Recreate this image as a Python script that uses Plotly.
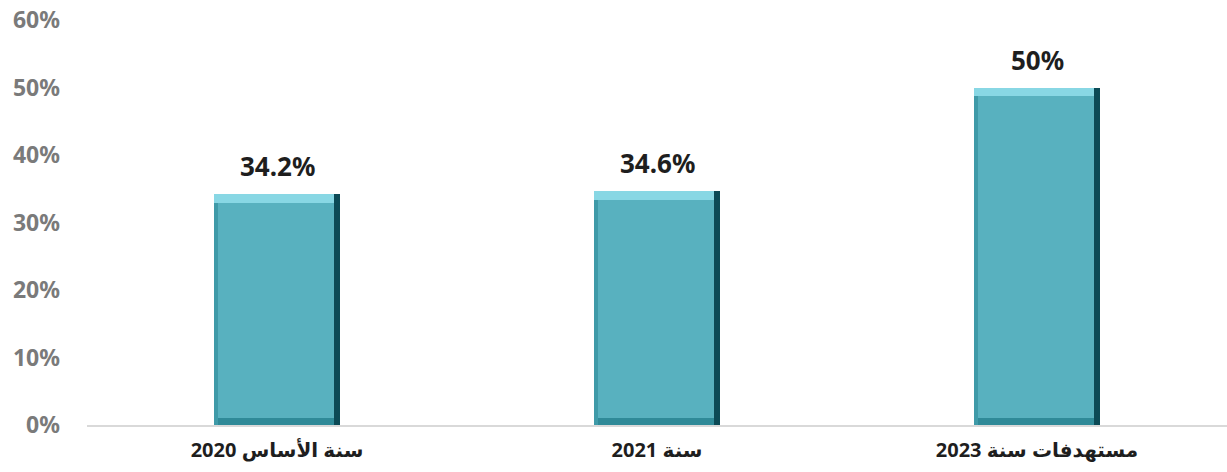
import plotly.graph_objects as go

categories = ["سنة الأساس 2020", "سنة 2021", "مستهدفات سنة 2023"]
values = [34.2, 34.6, 50]
value_labels = ["34.2%", "34.6%", "50%"]
y_ticks = [0, 10, 20, 30, 40, 50, 60]
y_tick_labels = ["0%", "10%", "20%", "30%", "40%", "50%", "60%"]

BW = 0.334
OFF = -BW / 2
MAIN = "#58b1bf"
TOP = "#88d7e4"
BOTTOM = "#2f8a98"
LEFT = "#3f9aa8"
RIGHT = "#0c4a56"

fig = go.Figure()
# main body
fig.add_trace(go.Bar(x=categories, y=values, width=BW, offset=OFF,
                     marker=dict(color=MAIN, line=dict(width=0)), hoverinfo="skip"))
# top highlight bevel
top_h = 1.3
fig.add_trace(go.Bar(x=categories, y=[top_h] * 3, base=[v - top_h for v in values],
                     width=BW, offset=OFF, marker=dict(color=TOP, line=dict(width=0)),
                     hoverinfo="skip"))
# bottom bevel
bot_h = 1.0
fig.add_trace(go.Bar(x=categories, y=[bot_h] * 3, base=[0] * 3,
                     width=BW, offset=OFF, marker=dict(color=BOTTOM, line=dict(width=0)),
                     hoverinfo="skip"))
# left bevel
lw = 0.012
fig.add_trace(go.Bar(x=categories, y=[v - top_h for v in values], width=lw, offset=OFF,
                     marker=dict(color=LEFT, line=dict(width=0)), hoverinfo="skip"))
# right bevel (dark)
rw = 0.018
fig.add_trace(go.Bar(x=categories, y=values, width=rw, offset=OFF + BW - rw,
                     marker=dict(color=RIGHT, line=dict(width=0)), hoverinfo="skip"))

for c, v, t in zip(categories, values, value_labels):
    fig.add_annotation(x=c, y=v, text=f"<b>{t}</b>", showarrow=False,
                       yanchor="bottom", yshift=8,
                       font=dict(family="Noto Sans, DejaVu Sans", size=26, color="#1e1e1e"))

fig.update_layout(
    width=1227, height=472,
    barmode="overlay",
    showlegend=False,
    plot_bgcolor="white", paper_bgcolor="white",
    margin=dict(l=87, r=0, t=20, b=47, autoexpand=False),
    bargap=0,
)
fig.update_yaxes(range=[0, 60], tickvals=y_ticks, ticktext=[f"<b>{t}</b>" for t in y_tick_labels],
                 showgrid=False, zeroline=False, showline=False, automargin=False,
                 ticklabelstandoff=26,
                 tickfont=dict(family="Noto Sans, DejaVu Sans", size=23, color="#7a7a7a"))
fig.update_xaxes(showgrid=False, showline=True, linecolor="#d9d9d9", linewidth=1.5,
                 automargin=False, ticklabelstandoff=6,
                 tickvals=categories, ticktext=[f"<b>{c}</b>" for c in categories],
                 tickfont=dict(family="Noto Sans, DejaVu Sans", size=20, color="#1e1e1e"))

fig.write_html("out.html", config={"displayModeBar": False},
               post_script="document.body.style.margin='0';document.body.style.overflow='hidden';")
